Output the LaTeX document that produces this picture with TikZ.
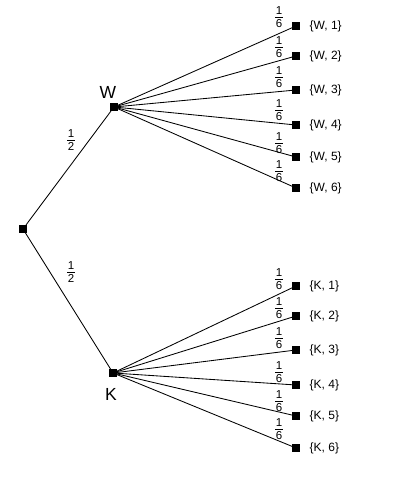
\documentclass[tikz,border=0pt]{standalone}
\usepackage{fontspec}
\setmainfont{Liberation Sans}
\newcommand{\fr}[2]{\vbox{\offinterlineskip\hbox to 8pt{\hfil#1\hfil}\kern2.4pt\hrule width 8pt height 0.6pt\kern2.4pt\hbox to 8pt{\hfil#2\hfil}}}
\tikzset{
  sq/.style={draw=none,fill=black,minimum size=7.5pt,inner sep=0pt},
  leaflab/.style={anchor=west,font=\fontsize{12}{13}\selectfont,inner sep=0pt},
  prob/.style={inner sep=0pt,font=\fontsize{11.5}{13}\selectfont},
  big/.style={inner sep=0pt,font=\fontsize{17.5}{19}\selectfont},
  br/.style={line width=0.85pt}
}
\begin{document}
\begin{tikzpicture}[x=1pt,y=1pt]
\useasboundingbox (0,0) rectangle (400,500);
\node[sq] (root) at (23,271) {};
\node[sq] (W) at (114,393) {};
\node[sq] (K) at (113,127) {};
\node[big] (Wl) at (108,408) {W};
\node[big] (Kl) at (111,106) {K};
\draw[br] (root) -- (W);
\draw[br] (root) -- (K);
\node[prob] (pW) at (71,360) {\fr{1}{2}};
\node[prob] (pK) at (71,228) {\fr{1}{2}};
\foreach \i/\y/\f in {1/474/483, 2/444/453, 3/410/423, 4/375/390, 5/343/357, 6/312/329} {
  \node[sq] (w\i) at (296,\y) {};
  \node[leaflab] (wl\i) at (309.5,\y) {\{W, \i\}};
  \draw[br] (W.center) -- (w\i);
  \node[prob] (wp\i) at (279,\f) {\fr{1}{6}};
}
\foreach \i/\y/\f in {1/214/221, 2/184/192, 3/150/162, 4/115/128, 5/84/99, 6/52/71} {
  \node[sq] (k\i) at (296,\y) {};
  \node[leaflab] (kl\i) at (309.5,\y) {\{K, \i\}};
  \draw[br] (K.center) -- (k\i);
  \node[prob] (kp\i) at (279,\f) {\fr{1}{6}};
}
\end{tikzpicture}
\end{document}
